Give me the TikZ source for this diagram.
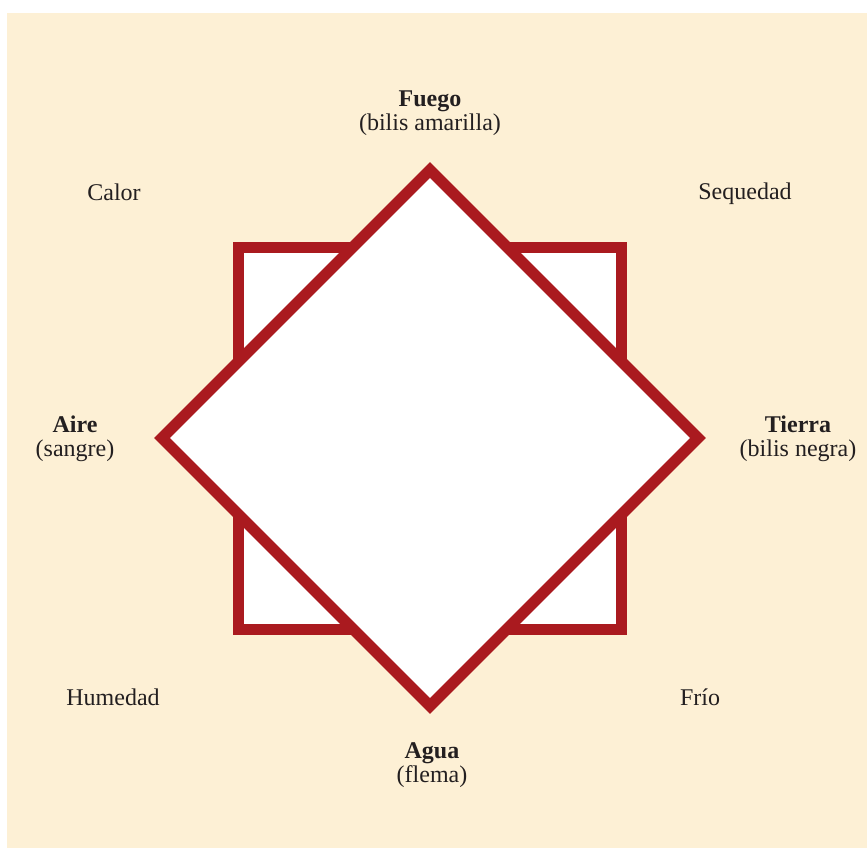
\documentclass[tikz,border=0pt]{standalone}
\usepackage{fontspec}
\setmainfont{Liberation Serif}
\definecolor{bgcream}{HTML}{FDF0D5}
\definecolor{redline}{HTML}{AA1A1F}
\definecolor{txt}{HTML}{231F20}
\begin{document}
\begin{tikzpicture}[x=1pt,y=-1pt,
  shapeline/.style={draw=redline,line width=11pt,fill=white,line join=miter},
  lbl/.style={text=txt,font=\fontsize{24}{24.5}\selectfont,align=center,inner sep=0pt}]
\useasboundingbox (0,0) rectangle (867,848);
\fill[bgcream] (7,13) rectangle (867,848);
\coordinate (c) at (430,438);
\draw[shapeline] (238,247) rectangle (621,629);
\draw[shapeline] (430,170) -- (698,438) -- (430,706) -- (162,438) -- cycle;
\node[lbl] (fuego) at (430,113) {\textbf{Fuego}\\(bilis amarilla)};
\node[lbl] (calor) at (114,192) {Calor};
\node[lbl] (sequedad) at (745,194) {Sequedad};
\node[lbl] (aire) at (75,439) {\textbf{Aire}\\(sangre)};
\node[lbl] (tierra) at (798,439) {\textbf{Tierra}\\(bilis negra)};
\node[lbl] (humedad) at (113,697) {Humedad};
\node[lbl] (frio) at (700,697) {Frío};
\node[lbl] (agua) at (432,765) {\textbf{Agua}\\(flema)};
\end{tikzpicture}
\end{document}
